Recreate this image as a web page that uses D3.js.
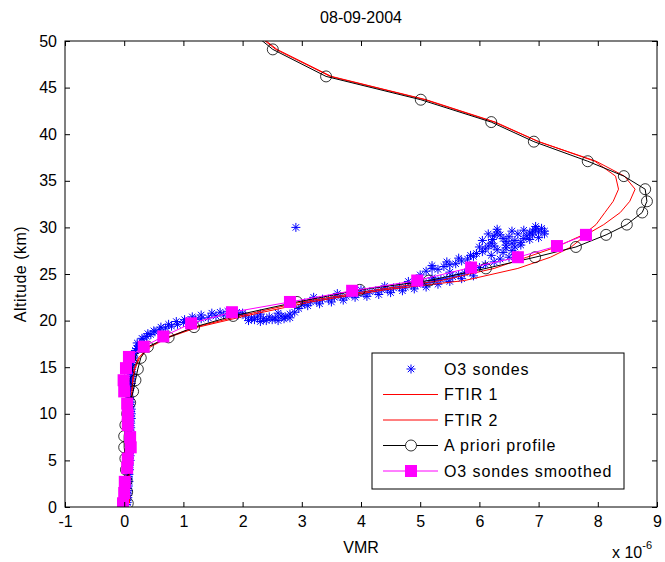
<!DOCTYPE html>
<html>
<head>
<meta charset="utf-8">
<script src="https://cdn.jsdelivr.net/npm/d3@7"></script>
<style>
body { margin: 0; background: #fff; }
svg { font-family: "Liberation Sans", Arial, sans-serif; }
</style>
</head>
<body>
<div id="chart"></div>
<script>
// VMR in units of 1e-6, altitude in km
var sondes = [
    [0.04,0.25],[0.05,0.5],[0.05,0.75],[0.06,1],[0.06,1.25],[0.05,1.5],[0.07,1.75],[0.06,2],[0.07,2.25],[0.06,2.5],
    [0.08,2.75],[0.07,3],[0.07,3.25],[0.08,3.5],[0.07,3.75],[0.09,4],[0.08,4.25],[0.09,4.5],[0.08,4.75],[0.1,5],
    [0.09,5.25],[0.1,5.5],[0.09,5.75],[0.11,6],[0.1,6.25],[0.11,6.5],[0.1,6.75],[0.11,7],[0.12,7.25],[0.11,7.5],
    [0.12,7.75],[0.11,8],[0.1,8.25],[0.11,8.5],[0.1,8.75],[0.11,9],[0.1,9.25],[0.12,9.5],[0.11,9.75],[0.12,10],
    [0.11,10.25],[0.12,10.5],[0.11,10.75],[0.1,11],[0.11,11.25],[0.1,11.5],[0.09,11.75],[0.08,12],[0.08,12.25],[0.09,12.5],
    [0.1,12.75],[0.11,13],[0.12,13.25],[0.11,13.5],[0.12,13.75],[0.13,14],[0.12,14.25],[0.13,14.5],[0.12,14.75],[0.13,15],
    [0.14,15.25],[0.13,15.5],[0.15,15.75],[0.16,16],
    [0.16,16.2],[0.17,16.5],[0.19,16.8],[0.21,17.0],[0.24,17.3],[0.27,17.5],[0.32,18.0],[0.38,18.3],[0.45,18.5],[0.52,18.8],
    [0.6,19.0],[0.7,19.2],[0.8,19.4],[0.9,19.6],[1.0,19.8],[1.1,19.9],[1.2,20.1],[1.3,20.2],[1.42,20.3],[1.55,20.5],
    [1.68,20.6],[1.8,20.7],[1.92,20.6],[2.05,20.5],[2.15,20.3],[2.25,20.4],[2.35,20.2],[2.45,20.4],[2.55,20.3],[2.65,20.5],
    [2.72,20.4],[2.8,20.7],[2.88,20.9],[2.95,21.3],[3.0,21.7],[3.05,21.9],
    [0.22,17.6],[0.3,18.1],[0.4,18.6],[0.5,18.9],[0.62,19.3],[0.75,19.6],[0.88,19.9],[1.02,20.1],[1.15,20.4],[1.3,20.6],
    [1.48,20.8],[1.62,20.9],[1.75,21.0],[1.9,20.9],
    [2.1,20.0],[2.2,20.1],[2.3,19.9],[2.4,20.0],[2.5,20.1],[2.6,20.0],[2.7,20.2],[2.8,20.3],[2.0,20.8],[2.3,20.7],[2.6,20.8],
    [3.15,22.0],[3.25,22.1],[3.35,22.3],[3.45,22.3],[3.55,22.5],[3.65,22.6],[3.75,22.6],[3.85,22.8],[3.95,22.9],[4.05,22.9],
    [4.15,23.1],[4.25,23.2],[4.35,23.3],[4.45,23.3],[4.55,23.5],[4.65,23.6],[4.75,23.6],[4.85,23.8],[4.95,23.9],[5.05,24.0],
    [5.15,24.1],[5.25,24.3],[5.35,24.4],[5.45,24.5],[5.55,24.7],[5.65,24.9],[5.75,25.1],[5.85,25.3],
    [3.1,21.6],[3.3,21.8],[3.5,22.0],[3.7,22.2],[3.9,22.5],[4.1,22.6],[4.3,22.8],[4.5,23.0],[4.7,23.2],[4.9,23.4],
    [5.1,23.6],[5.3,23.9],[5.5,24.2],[5.7,24.5],[5.9,24.8],
    [3.2,22.5],[3.6,22.9],[4.0,23.3],[4.4,23.7],[4.8,24.2],[5.2,24.6],[5.5,25.2],
    [5.0,24.9],[5.1,25.3],[5.2,25.6],[5.3,25.5],[5.4,25.8],[5.5,26.0],[5.6,26.1],[5.7,26.4],[5.8,26.6],[5.9,26.9],
    [5.95,27.2],[6.05,27.4],[6.1,27.7],[6.15,28.0],[6.2,28.3],[6.22,28.7],[6.25,29.1],[6.3,29.5],[6.35,29.2],[6.4,28.8],
    [6.45,28.5],[6.55,28.3],[6.6,28.6],[6.7,28.4],[6.75,28.8],[6.8,29.1],[6.85,29.4],[6.9,29.6],[6.95,29.8],[7.0,29.5],
    [7.05,29.9],[7.1,29.6],
    [6.0,25.7],[6.1,26.0],[6.25,26.3],[6.35,26.6],[6.5,26.8],[6.6,27.1],[6.55,27.5],[6.45,27.8],
    [5.2,25.9],[5.45,26.3],[5.65,26.7],[5.85,27.0],[6.0,27.9],[6.05,28.6],[6.15,29.3],[6.3,29.8],[6.5,29.0],[6.65,29.3],
    [6.75,29.7],[6.9,29.2],[7.0,28.9],[6.6,27.9],[6.4,27.3],[6.7,28.1],
    [6.2,27.0],[6.3,27.6],[6.45,28.1],[6.85,28.7],[7.1,29.3],[6.95,30.1],[6.55,29.6],[6.25,28.0],
    [2.9,30.0]
];

var gridAlt = [0.4,1.6,2.8,4.0,5.2,6.4,7.6,8.8,10.0,11.2,12.4,13.6,14.8,16.0,17.2,18.2,19.3,20.5,22.0,23.3,
    24.3,25.6,26.8,27.9,29.2,30.3,31.6,32.8,34.1,35.5,37.1,39.2,41.3,43.7,46.2,49.1,52.0];
var aprioriVmr = [0.06,0.05,0.04,0.03,0.02,0.0,0.0,0.02,0.05,0.1,0.15,0.19,0.23,0.28,0.4,0.75,1.18,1.84,2.92,3.98,
    5.15,6.11,6.94,7.63,8.14,8.49,8.75,8.83,8.8,8.44,7.83,6.92,6.2,5.01,3.41,2.51,1.95];
var ftir1Vmr = [0.08,0.08,0.08,0.08,0.08,0.08,0.09,0.1,0.11,0.12,0.13,0.14,0.17,0.24,0.42,0.72,1.2,1.95,3.0,4.25,
    5.35,6.25,6.8,7.3,7.75,7.97,8.12,8.26,8.35,8.3,7.95,7.0,6.27,5.1,3.5,2.58,2.0];
var ftir2Vmr = [0.09,0.09,0.08,0.08,0.08,0.08,0.09,0.1,0.11,0.12,0.13,0.15,0.18,0.26,0.45,0.75,1.25,2.05,3.15,4.4,
    5.75,6.65,7.2,7.55,7.8,8.1,8.38,8.54,8.63,8.45,7.97,7.0,6.25,5.08,3.48,2.56,1.98];

var smoothAlt = [0.4,1.5,2.7,4.2,5.2,6.4,7.5,8.8,9.9,11.1,12.4,13.6,14.9,16.1,17.2,18.3,19.7,20.9,22.0,23.2,
    24.3,25.7,26.8,28.0,29.2];
var smoothVmr = [-0.02,0.0,0.01,0.05,0.06,0.11,0.1,0.06,0.06,0.05,0.0,-0.01,0.03,0.08,0.33,0.66,1.13,1.82,2.8,3.85,
    4.95,5.86,6.65,7.31,7.8];

var xTicks = [-1,0,1,2,3,4,5,6,7,8,9];
var yTicks = [0,5,10,15,20,25,30,35,40,45,50];
var legendLabels = ['O3 sondes','FTIR 1','FTIR 2','A priori profile','O3 sondes smoothed'];

(function() {
    var W = 665, H = 562,
        mLeft = 65, mTop = 41, mRight = 657, mBottom = 507,
        width = mRight - mLeft, height = mBottom - mTop,
        fs = 16;

    var svg = d3.select('#chart').append('svg')
        .attr('width', W)
        .attr('height', H);

    svg.append('rect').attr('width', W).attr('height', H).attr('fill', '#fff');

    var x = d3.scaleLinear().domain([-1, 9]).range([0, width]),
        y = d3.scaleLinear().domain([0, 50]).range([height, 0]);

    var chart = svg.append('g')
        .attr('transform', 'translate(' + mLeft + ',' + mTop + ')');

    chart.append('defs').append('clipPath')
        .attr('id', 'clip')
        .append('rect')
        .attr('width', width)
        .attr('height', height);

    var plot = chart.append('g').attr('clip-path', 'url(#clip)');

    var star = 'M-4.5,0H4.5M0,-4.5V4.5M-3.2,-3.2L3.2,3.2M-3.2,3.2L3.2,-3.2';

    // O3 sondes
    plot.append('g').selectAll('path')
        .data(sondes)
        .enter()
        .append('path')
        .attr('d', star)
        .attr('transform', function(d) { return 'translate(' + x(d[0]) + ',' + y(d[1]) + ')'; })
        .attr('stroke', '#0000ff')
        .attr('stroke-width', 1)
        .attr('fill', 'none');

    var line = d3.line()
        .x(function(d) { return x(d[0]); })
        .y(function(d) { return y(d[1]); });

    var pairs = function(vals, alts) {
        return vals.map(function(v, i) { return [v, alts[i]]; });
    };

    [ftir1Vmr, ftir2Vmr].forEach(function(vals) {
        plot.append('path')
            .attr('d', line(pairs(vals, gridAlt)))
            .attr('fill', 'none')
            .attr('stroke', '#ff0000')
            .attr('stroke-width', 1);
    });

    var apriori = pairs(aprioriVmr, gridAlt);
    plot.append('path')
        .attr('d', line(apriori))
        .attr('fill', 'none')
        .attr('stroke', '#000')
        .attr('stroke-width', 1);
    plot.append('g').selectAll('circle')
        .data(apriori)
        .enter()
        .append('circle')
        .attr('cx', function(d) { return x(d[0]); })
        .attr('cy', function(d) { return y(d[1]); })
        .attr('r', 5.5)
        .attr('fill', 'none')
        .attr('stroke', '#000')
        .attr('stroke-width', 0.8);

    var smooth = pairs(smoothVmr, smoothAlt);
    plot.append('path')
        .attr('d', line(smooth))
        .attr('fill', 'none')
        .attr('stroke', '#ff00ff')
        .attr('stroke-width', 1);
    plot.append('g').selectAll('rect')
        .data(smooth)
        .enter()
        .append('rect')
        .attr('x', function(d) { return x(d[0]) - 6; })
        .attr('y', function(d) { return y(d[1]) - 6; })
        .attr('width', 12)
        .attr('height', 12)
        .attr('fill', '#ff00ff');

    // axes box with inward ticks on all sides
    var tickStyle = function(g) {
        g.select('.domain').remove();
        g.selectAll('line').attr('stroke', '#000');
        g.selectAll('text').style('font-size', fs + 'px').attr('fill', '#000');
    };
    var plain = function(d) { return String(d); };

    chart.append('g')
        .attr('transform', 'translate(0,' + height + ')')
        .call(d3.axisBottom(x).tickValues(xTicks).tickFormat(plain).tickSizeInner(-5).tickPadding(9))
        .call(tickStyle);
    chart.append('g')
        .call(d3.axisTop(x).tickValues(xTicks).tickFormat('').tickSizeInner(-5))
        .call(tickStyle);
    chart.append('g')
        .call(d3.axisLeft(y).tickValues(yTicks).tickFormat(plain).tickSizeInner(-5).tickPadding(8))
        .call(tickStyle);
    chart.append('g')
        .attr('transform', 'translate(' + width + ',0)')
        .call(d3.axisRight(y).tickValues(yTicks).tickFormat('').tickSizeInner(-5))
        .call(tickStyle);

    chart.append('rect')
        .attr('width', width)
        .attr('height', height)
        .attr('fill', 'none')
        .attr('stroke', '#000')
        .attr('stroke-width', 1);

    // labels
    svg.append('text')
        .attr('x', mLeft + width / 2)
        .attr('y', 23)
        .attr('text-anchor', 'middle')
        .style('font-size', fs + 'px')
        .text('08-09-2004');

    svg.append('text')
        .attr('x', mLeft + width / 2)
        .attr('y', 553)
        .attr('text-anchor', 'middle')
        .style('font-size', fs + 'px')
        .text('VMR');

    svg.append('text')
        .attr('transform', 'translate(26,' + (mTop + height / 2) + ') rotate(-90)')
        .attr('text-anchor', 'middle')
        .style('font-size', fs + 'px')
        .style('letter-spacing', '0.5px')
        .text('Altitude (km)');

    var expo = svg.append('text')
        .attr('x', 612)
        .attr('y', 558)
        .style('font-size', fs + 'px');
    expo.append('tspan').text('x 10');
    expo.append('tspan').attr('dy', -9).style('font-size', '11px').text('-6');

    // legend
    var lineColors = {'FTIR 1': '#ff0000', 'FTIR 2': '#ff0000', 'A priori profile': '#000', 'O3 sondes smoothed': '#ff00ff'};

    var lg = svg.append('g').attr('transform', 'translate(372,353)');
    lg.append('rect')
        .attr('width', 252)
        .attr('height', 136)
        .attr('fill', '#fff')
        .attr('stroke', '#000')
        .attr('stroke-width', 1);

    var item = lg.selectAll('.item')
        .data(legendLabels)
        .enter()
        .append('g')
        .attr('class', 'item')
        .attr('transform', function(d, i) { return 'translate(0,' + (16 + i * 25.5) + ')'; });

    item.append('text')
        .attr('x', 72)
        .attr('dy', '0.35em')
        .style('font-size', fs + 'px')
        .style('letter-spacing', '0.9px')
        .text(function(d) { return d; });

    item.filter(function(d) { return lineColors[d]; })
        .append('line')
        .attr('x1', 11)
        .attr('x2', 66)
        .attr('stroke', function(d) { return lineColors[d]; })
        .attr('stroke-width', 1);

    item.filter(function(d) { return d === 'O3 sondes'; })
        .append('path')
        .attr('d', star)
        .attr('transform', 'translate(39,0)')
        .attr('stroke', '#0000ff')
        .attr('stroke-width', 1)
        .attr('fill', 'none');

    item.filter(function(d) { return d === 'A priori profile'; })
        .append('circle')
        .attr('cx', 39)
        .attr('r', 5.5)
        .attr('fill', '#fff')
        .attr('stroke', '#000')
        .attr('stroke-width', 0.8);

    item.filter(function(d) { return d === 'O3 sondes smoothed'; })
        .append('rect')
        .attr('x', 33)
        .attr('y', -6)
        .attr('width', 12)
        .attr('height', 12)
        .attr('fill', '#ff00ff');
})();
</script>
</body>
</html>
